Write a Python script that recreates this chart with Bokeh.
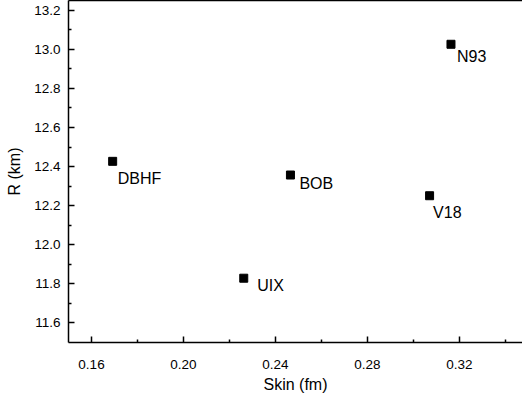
from bokeh.plotting import figure
from bokeh.models import ColumnDataSource, FixedTicker, PrintfTickFormatter, Range1d, LinearAxis
from bokeh.core.properties import value
from bokeh.embed import file_html
from bokeh.resources import INLINE

# data
names = ["DBHF", "BOB", "UIX", "N93", "V18"]
skin = [0.1692, 0.2465, 0.2262, 0.3163, 0.3070]
radius = [12.427, 12.357, 11.829, 13.026, 12.251]
x_ticks = [0.16, 0.20, 0.24, 0.28, 0.32]
x_minor = [0.18, 0.22, 0.26, 0.30, 0.34]
y_ticks = [11.6, 11.8, 12.0, 12.2, 12.4, 12.6, 12.8, 13.0, 13.2]
y_minor = [11.7, 11.9, 12.1, 12.3, 12.5, 12.7, 12.9, 13.1]

# label offsets (screen px)
lab_dx = [5, 9, 13.5, 6, 3.5]
lab_dy = [17, 8.5, 7, 12, 17]

FONT = "Liberation Sans"

src = ColumnDataSource(dict(x=skin, y=radius, name=names, dx=lab_dx, dy=lab_dy))

p = figure(width=522, height=396, output_backend="svg", toolbar_location=None,
           x_range=Range1d(0.15, 0.3474), y_range=Range1d(11.5, 13.25),
           min_border_left=68, min_border_right=0, min_border_top=0, min_border_bottom=54)
p.outline_line_color = None
p.grid.visible = False
p.background_fill_color = "white"
p.border_fill_color = "white"

p.scatter("x", "y", source=src, marker="square", size=8, color="black")
p.text("x", "y", text="name", source=src, x_offset="dx", y_offset="dy",
       text_font=value(FONT), text_font_size="16px", text_align="left",
       text_baseline="middle", text_color="black")

top_axis = LinearAxis(ticker=FixedTicker(ticks=[]), major_label_text_font_size="0px",
                      major_tick_in=0, major_tick_out=0, minor_tick_in=0, minor_tick_out=0,
                      major_label_standoff=0, axis_line_color="black", axis_line_width=1.5)
p.add_layout(top_axis, "above")

p.xaxis.ticker = FixedTicker(ticks=x_ticks, minor_ticks=x_minor)
p.yaxis.ticker = FixedTicker(ticks=y_ticks, minor_ticks=y_minor)
p.below[0].formatter = PrintfTickFormatter(format="%.2f")
p.yaxis.formatter = PrintfTickFormatter(format="%.1f")
top_axis.ticker = FixedTicker(ticks=[])

for ax in (p.below[0], p.left[0]):
    ax.axis_line_color = "black"
    ax.axis_line_width = 1.5
    ax.major_tick_line_color = "black"
    ax.major_tick_line_width = 1.5
    ax.minor_tick_line_color = "black"
    ax.minor_tick_line_width = 1.5
    ax.major_tick_in = 6
    ax.major_tick_out = 0
    ax.minor_tick_in = 3
    ax.minor_tick_out = 0
    ax.major_label_text_font = FONT
    ax.major_label_text_font_size = "13.5px"
    ax.major_label_text_color = "black"
    ax.axis_label_text_font = FONT
    ax.axis_label_text_font_size = "16px"
    ax.axis_label_text_font_style = "normal"
    ax.axis_label_text_color = "black"

p.below[0].axis_label = "Skin (fm)"
p.left[0].axis_label = "R (km)"
p.below[0].major_label_standoff = 17
p.below[0].axis_label_standoff = 4
p.left[0].major_label_standoff = 8
p.left[0].axis_label_standoff = 8

open("out.html", "w").write(file_html(p, INLINE))
